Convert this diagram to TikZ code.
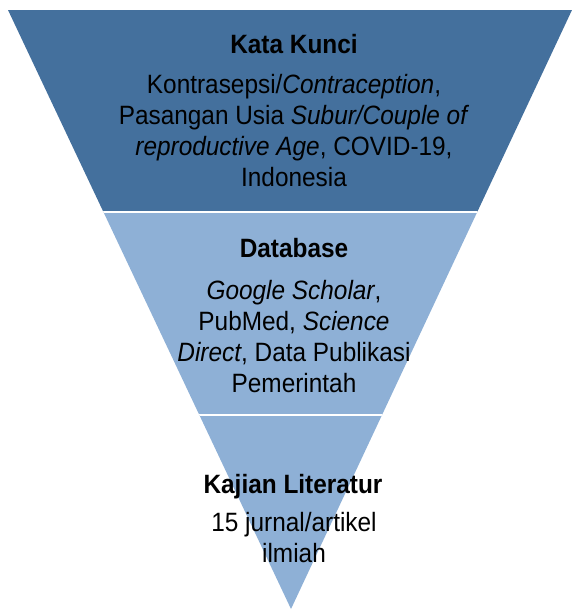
\documentclass[tikz,border=0pt]{standalone}
\usepackage{fontspec}
\setmainfont{Liberation Sans}[FakeStretch=0.92]
\usepackage{tikz}
\definecolor{darkband}{HTML}{44709D}
\definecolor{lightband}{HTML}{8EB0D6}

\begin{document}
\begin{tikzpicture}[x=1pt,y=-1pt,
  title/.style={anchor=base,font=\bfseries\fontsize{26.5}{31.5}\selectfont},
  body/.style={align=center,font=\fontsize{26.5}{31}\selectfont}]
\useasboundingbox (0,0) rectangle (572,611);

% bands of the funnel
\begin{scope}
\clip (8,10) -- (572,10) -- (291,609) -- cycle;
\fill[darkband] (0,0) rectangle (572,212);
\fill[lightband] (0,212) rectangle (572,611);
\draw[white, line width=2pt] (0,211.5) -- (572,211.5);
\draw[white, line width=2pt] (0,415) -- (572,415);
\end{scope}

% top band
\node[title] (katakunci) at (294,53) {Kata Kunci};
\node[body] (katabody) at (294,130.5) {Kontrasepsi/\textit{Contraception},\\
Pasangan Usia \textit{Subur/Couple of}\\
\textit{reproductive Age}, COVID-19,\\
Indonesia};

% middle band
\node[title] (database) at (294,257) {Database};
\node[body] (databody) at (294,336.5) {\textit{Google Scholar},\\
PubMed, \textit{Science}\\
\textit{Direct}, Data Publikasi\\
Pemerintah};

% bottom band
\node[title] (kajian) at (293,493) {Kajian Literatur};
\node[body] (kajianbody) at (294,538) {15 jurnal/artikel\\ilmiah};
\end{tikzpicture}
\end{document}
